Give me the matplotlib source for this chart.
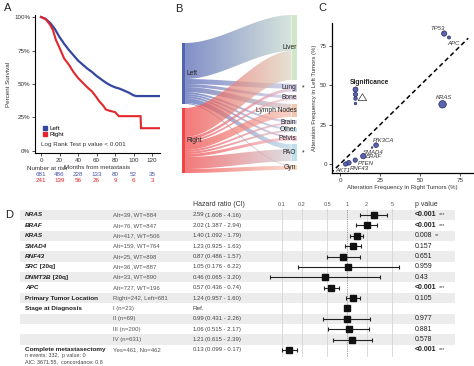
import numpy as np
import matplotlib
matplotlib.use("Agg")
import matplotlib.pyplot as plt
import matplotlib.transforms as mtransforms
from matplotlib.path import Path
from matplotlib.patches import PathPatch, Rectangle
from matplotlib.lines import Line2D
from matplotlib import colors as mcolors

plt.rcParams['font.family'] = ['Liberation Sans', 'DejaVu Sans']

W, H = 474, 366

# ---------------- data ----------------
# A: survival after metastasis, by side of primary tumour
km_time_left = [0, 5, 10, 15, 20, 25, 30, 35, 40, 45, 50, 55, 60, 65, 70, 75, 80, 85, 90, 95, 100, 103, 128]
km_surv_left = [1.0, 0.985, 0.955, 0.91, 0.85, 0.80, 0.755, 0.715, 0.675, 0.645, 0.615, 0.59, 0.56, 0.535,
                0.51, 0.49, 0.475, 0.465, 0.45, 0.435, 0.415, 0.41, 0.41]
km_time_right = [0, 5, 10, 13, 16, 20, 25, 30, 35, 40, 45, 50, 55, 60, 63, 67, 70, 74, 80, 84, 107.5, 108, 128]
km_surv_right = [1.0, 0.985, 0.94, 0.90, 0.83, 0.77, 0.69, 0.645, 0.59, 0.545, 0.51, 0.475, 0.445, 0.40,
                 0.37, 0.34, 0.31, 0.30, 0.29, 0.26, 0.26, 0.17, 0.17]
risk_months = [0, 20, 40, 60, 80, 100, 120]
risk_left = [681, 486, 228, 133, 80, 52, 35]
risk_right = [241, 139, 56, 26, 9, 6, 3]

# B: metastatic sites by side
sites = ['Liver', 'Lung', 'Bone', 'Lymph Nodes', 'Brain', 'Other', 'Pelvis', 'PAO', 'Gyn']
site_left = [36, 5, 3, 5, 2, 2, 2, 5, 1]
site_right = [29, 3, 2, 8, 2, 2, 3, 12, 4]
site_signif = ['Lung', 'PAO']

# C: alteration frequencies
genes_c = ['TP53', 'APC', 'KRAS', 'PIK3CA', 'SMAD4', 'BRAF', 'PTEN', 'RNF43', 'AKT1']
freq_right = [65, 68, 64, 22.5, 20, 14.5, 9.5, 5.5, 3.5]
freq_left = [83, 80.5, 38, 12, 10.5, 5, 2.5, 0.8, 0]
gene_signif = [4.5, 1.5, 9, 3.5, 0.4, 4.5, 3, 3.5, 3]
legend_signif = [4, 3, 2, 1]

# D: Cox model
row_names = ['NRAS', 'BRAF', 'KRAS', 'SMAD4', 'RNF43', 'SRC', 'DNMT3B', 'APC',
             'Primary Tumor Location', 'Stage at Diagnosis', '', '', '', 'Complete metastasectomy']
row_suffix = ['', '', '', '', '', ' [20q]', ' [20q]', '', '', '', '', '', '', '']
row_italic = [True] * 8 + [False] * 6
row_counts = ['Alt=39, WT=884', 'Alt=76, WT=847', 'Alt=417, WT=506', 'Alt=159, WT=764', 'Alt=25, WT=898',
              'Alt=36 ,WT=887', 'Alt=33, WT=890', 'Alt=727, WT=196', 'Right=242, Left=681', 'I (n=23)',
              'II (n=69)', 'III (n=200)', 'IV (n=631)', 'Yes=461, No=462']
hr = [2.59, 2.02, 1.40, 1.23, 0.87, 1.05, 0.46, 0.57, 1.24, 1.0, 0.99, 1.06, 1.21, 0.13]
ci_lo = [1.608, 1.387, 1.092, 0.925, 0.486, 0.176, 0.065, 0.436, 0.957, np.nan, 0.431, 0.515, 0.615, 0.099]
ci_hi = [4.16, 2.94, 1.79, 1.63, 1.57, 6.22, 3.20, 0.74, 1.60, np.nan, 2.26, 2.17, 2.39, 0.17]
p_text = ['<0.001', '<0.001', '0.008', '0.157', '0.651', '0.959', '0.43', '<0.001', '0.105', '',
          '0.977', '0.881', '0.578', '<0.001']
p_stars = ['***', '***', '**', '', '', '', '', '***', '', '', '', '', '', '***']
hr_ticks = [0.1, 0.2, 0.5, 1, 2, 5]

fig = plt.figure(figsize=(W / 100, H / 100), dpi=100)
txt = '#333333'


def box(x0, y0, x1, y1):
    # pixel box (top-left origin) -> figure rect
    return [x0 / W, 1 - y1 / H, (x1 - x0) / W, (y1 - y0) / H]


for lab, (lx, ly) in zip('ABCD', [(4, 8), (175, 9), (318, 8), (5, 215)]):
    fig.text(lx / W, 1 - ly / H, lab, fontsize=8, va='center', color='#222')

# ---------------- A ----------------
blue, red = '#34479f', '#e3262b'
axA = fig.add_axes(box(35, 15, 160, 153))
axA.plot(km_time_left, km_surv_left, color=blue, lw=1.6, solid_joinstyle='miter')
axA.plot(km_time_right, km_surv_right, color=red, lw=1.5, solid_joinstyle='miter')
axA.set_xlim(-6.5, 128.5)
axA.set_ylim(-0.015, 1.015)
axA.set_xticks(risk_months)
axA.set_yticks([0, 0.25, 0.5, 0.75, 1])
axA.set_yticklabels(['0%', '25%', '50%', '75%', '100%'])
axA.tick_params(labelsize=4.5, length=2, width=0.6, pad=1.5, colors=txt)
for s in ['top', 'right']:
    axA.spines[s].set_visible(False)
for s in ['left', 'bottom']:
    axA.spines[s].set_linewidth(0.8)
axA.set_ylabel('Percent Survival', fontsize=4.5, labelpad=2, color=txt)
axA.set_xlabel('Months from metastasis', fontsize=4.5, labelpad=1.5, color=txt)
handles = [Line2D([], [], color=c, marker='s', ls='', ms=2.5) for c in (blue, red)]
axA.legend(handles, ['Left', 'Right'], loc='lower left', bbox_to_anchor=(0.03, 0.09), fontsize=4.5,
           frameon=False, handletextpad=0.2, labelspacing=0.2, borderpad=0, handlelength=1)
axA.text(0, 0.05, 'Log Rank Test p value < 0.001', fontsize=4.5, va='center', color=txt)

tA = mtransforms.blended_transform_factory(axA.transData, fig.transFigure)
fig.text(27 / W, 1 - 169 / H, 'Number at risk', fontsize=4.5, va='center', color=txt)
for m, nl, nr in zip(risk_months, risk_left, risk_right):
    axA.text(m, 1 - 175 / H, str(nl), transform=tA, fontsize=4.5, ha='center', va='center',
             color='#4456a8', clip_on=False)
    axA.text(m, 1 - 180.5 / H, str(nr), transform=tA, fontsize=4.5, ha='center', va='center',
             color=red, clip_on=False)

# ---------------- B ----------------
axB = fig.add_axes(box(180, 10, 300, 178))
axB.axis('off')
src_names = ['Left', 'Right']
src_vals = [site_left, site_right]
src_cols = ['#5064b2', '#f04545']
site_cols = ['#cfe7c8', '#cbc4e4', '#e6d3e6', '#f1c6ae', '#d8d0ea', '#c4dfec', '#f2c4d4', '#bfe0ea', '#f6d8bd']
x_src, bar_w = 0.017, 0.025
x_tgt, tgt_w = 0.93, 0.045
src_top, src_gap = 33, 4
tgt_top, tgt_gap = 5, 3.6

# stacking positions
src_y = []
y = src_top
for vals in src_vals:
    src_y.append(y)
    y += sum(vals) + src_gap
site_tot = [a + b for a, b in zip(site_left, site_right)]
tgt_y = []
y = tgt_top
for tot in site_tot:
    tgt_y.append(y)
    y += tot + tgt_gap

t = np.linspace(0, 1, 80)
sm = t * t * (3 - 2 * t)
x0, x1 = x_src + bar_w, x_tgt
xs = x0 + (x1 - x0) * t
grad = np.linspace(0, 1, 160)[:, None]
white = np.ones(3)
for si, vals in enumerate(src_vals):
    ys = src_y[si]
    for ti, v in enumerate(vals):
        yt = tgt_y[ti] + (0 if si == 0 else site_left[ti])
        top = ys + (yt - ys) * sm
        bot = top + v
        verts = np.concatenate([np.column_stack([xs, top]), np.column_stack([xs[::-1], bot[::-1]])])
        path = Path(np.vstack([verts, verts[:1]]), closed=True)
        c0 = np.array(mcolors.to_rgb(src_cols[si]))
        ct = np.array(mcolors.to_rgb(site_cols[ti]))
        c1 = 0.7 * ct + 0.3 * (0.4 * c0 + 0.6 * white)
        img = (c0 * (1 - grad) + c1 * grad)[None, :, :]
        im = axB.imshow(img, extent=[x0, x1, bot.max(), top.min()],
                        aspect='auto', alpha=0.72, interpolation='bilinear', zorder=1)
        im.set_clip_path(PathPatch(path, transform=axB.transData))
        ys += v

for si, name in enumerate(src_names):
    h = sum(src_vals[si])
    axB.add_patch(Rectangle((x_src, src_y[si]), bar_w, h, color=src_cols[si], lw=0, zorder=2))
    axB.text(x0 + 0.01, src_y[si] + h / 2, name, fontsize=4.8, va='center', color='#222', zorder=4)
for ti, name in enumerate(sites):
    axB.add_patch(Rectangle((x_tgt, tgt_y[ti]), tgt_w, site_tot[ti], color=site_cols[ti], lw=0, zorder=2))
    yc = tgt_y[ti] + site_tot[ti] / 2
    axB.text(x_tgt + tgt_w - 0.005, yc, name, fontsize=4.8, ha='right', va='center', color='#222', zorder=4)
    if name in site_signif:
        axB.text(1.03, yc, '*', fontsize=5, ha='center', va='center', color='#222', clip_on=False)
axB.set_xlim(0, 1)
axB.set_ylim(168, 0)

# ---------------- C ----------------
axC = fig.add_axes(box(332, 23, 473, 173))
diag = np.array([-6, 80])
axC.plot(diag, diag, ls=(0, (3, 2)), color='black', lw=1.1, zorder=1)
pt_face, pt_edge = '#5a63ad', '#262a66'
axC.scatter(freq_right, freq_left, s=np.array(gene_signif) * 3.2, c=pt_face, edgecolors=pt_edge,
            linewidths=0.5, zorder=3)
lab_off = {'TP53': (-5, 3.5, 'center'), 'APC': (3, -4, 'center'), 'KRAS': (1, 5, 'center'),
           'PIK3CA': (5, 3.5, 'center'), 'SMAD4': (1, -3.5, 'center'), 'BRAF': (2, 0, 'left'),
           'PTEN': (2, -2.5, 'left'), 'RNF43': (1, -4, 'left'), 'AKT1': (-2, -4.5, 'center')}
for g, xr, yl in zip(genes_c, freq_right, freq_left):
    dx, dy, ha = lab_off[g]
    axC.annotate(g, (xr, yl), xytext=(dx, dy), textcoords='offset points', fontsize=4.3, style='italic',
                 ha=ha, va='center', color=txt, zorder=4)
for i, sg in enumerate(legend_signif):
    axC.scatter([9.4], [47.7 - 3.0 * i], s=sg * 3.2, c=pt_face, edgecolors=pt_edge, linewidths=0.5, zorder=3)
axC.text(6, 52, 'Significance', fontsize=4.8, fontweight='bold', va='center', color='#222')
axC.annotate('', xy=(14, 46.5), xytext=(14, 39),
             arrowprops=dict(arrowstyle='simple,head_width=0.6,head_length=0.5,tail_width=0.25',
                             fc='white', ec='#333', lw=0.5))
axC.set_xlim(-5, 83)
axC.set_ylim(-5.7, 89.7)
axC.set_xticks([0, 25, 50, 75])
axC.set_yticks([0, 25, 50, 75])
axC.tick_params(labelsize=4.5, length=2, width=0.6, pad=1.5, colors=txt)
for s in ['top', 'right']:
    axC.spines[s].set_visible(False)
for s in ['left', 'bottom']:
    axC.spines[s].set_linewidth(0.9)
axC.set_xlabel('Alteration Frequency in Right Tumors (%)', fontsize=4.3, labelpad=1.5, color=txt)
axC.set_ylabel('Alteration Frequency in Left Tumors (%)', fontsize=4.3, labelpad=2, color=txt)

# ---------------- D ----------------
n = len(row_names)
row_y0, row_h = 215, 10.38
ylim_d = ((357 - row_y0) / row_h, (209 - row_y0) / row_h)
rows = np.arange(n)
col_name, col_n, col_hr, col_ci, col_p = 25, 113, 193, 205, 415

axT = fig.add_axes(box(0, 209, 474, 357))
axT.set_xlim(0, 474)
axT.set_ylim(*ylim_d)
axT.axis('off')
for i in rows[::2]:
    axT.axhspan(i - 0.5, i + 0.5, xmin=20 / 474, xmax=455 / 474, color='#ececec', lw=0, zorder=0)

rend = fig.canvas.get_renderer()
inv = axT.transData.inverted()


def right_edge(tobj):
    bb = tobj.get_window_extent(renderer=rend)
    return inv.transform((bb.x1, 0))[0]


for i in rows:
    if row_names[i]:
        t1 = axT.text(col_name, i, row_names[i], fontsize=4.6, fontweight='bold',
                      style='italic' if row_italic[i] else 'normal', va='center', color='#222')
        if row_suffix[i]:
            axT.text(right_edge(t1), i, row_suffix[i], fontsize=4.6, fontweight='bold', va='center', color='#222')
    axT.text(col_n, i, row_counts[i], fontsize=4.3, va='center', color='#555')
    if np.isnan(ci_lo[i]):
        axT.text(col_hr, i, 'Ref.', fontsize=4.6, va='center', color='#444')
    else:
        axT.text(col_hr, i, f'{hr[i]:.2f}', fontsize=4.3, va='center', color='#444')
        axT.text(col_ci, i, f'({ci_lo[i]:.3f} - {ci_hi[i]:.2f})', fontsize=4.3, va='center', color='#444')
    if p_text[i]:
        bold = p_text[i].startswith('<')
        tp = axT.text(col_p, i, p_text[i], fontsize=5, fontweight='bold' if bold else 'normal',
                      va='center', color='#222')
        if p_stars[i]:
            axT.text(right_edge(tp) + 2, i, p_stars[i], fontsize=4, va='center', color='#444')

axT.text(col_hr, -1.0, 'Hazard ratio (CI)', fontsize=5, va='center', color='#333', clip_on=False)
axT.text(col_p, -1.0, 'p value', fontsize=5, va='center', color='#333', clip_on=False)
fig.text(col_name / W, 1 - 355.5 / H, 'n events: 332,  p value: 0', fontsize=3.9, va='center', color='#444')
fig.text(col_name / W, 1 - 361.5 / H, 'AIC: 3671.55,  concordance: 0.8', fontsize=3.9, va='center', color='#444')

axF = fig.add_axes(box(262, 209, 410, 357))
axF.patch.set_alpha(0)
axF.set_xscale('log')
axF.set_xlim(0.0492, 9.31)
axF.set_ylim(*ylim_d)
for v in hr_ticks:
    if v == 1:
        axF.axvline(v, color='#777', lw=0.6, ls=(0, (1, 1.2)), zorder=1)
    else:
        axF.axvline(v, color='#d4d4d4', lw=0.6, zorder=1)
hr_a = np.array(hr)
lo_a = np.array(ci_lo)
hi_a = np.array(ci_hi)
ok = ~np.isnan(lo_a)
axF.errorbar(hr_a[ok], rows[ok], xerr=[hr_a[ok] - lo_a[ok], hi_a[ok] - hr_a[ok]], fmt='none',
             ecolor='#222', elinewidth=0.8, capsize=1.6, capthick=0.8, zorder=2)
axF.plot(hr_a, rows, 's', color='#111', ms=4.2, zorder=3)
axF.xaxis.tick_top()
axF.set_xticks(hr_ticks)
axF.set_xticklabels([f'{v:g}' for v in hr_ticks])
axF.xaxis.set_minor_locator(matplotlib.ticker.NullLocator())
axF.tick_params(axis='x', length=0, labelsize=4, pad=1.5, colors='#555')
axF.set_yticks([])
for s in axF.spines.values():
    s.set_visible(False)

fig.savefig('out.png', dpi=100)
